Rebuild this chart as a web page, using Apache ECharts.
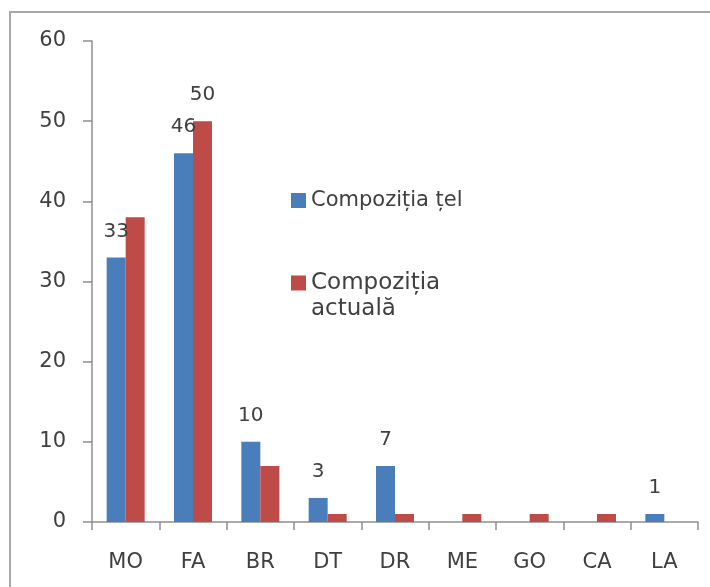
<!DOCTYPE html>
<html>
<head>
<meta charset="utf-8">
<script src="https://cdn.jsdelivr.net/npm/echarts@6/dist/echarts.min.js"></script>
<style>
  html, body { margin: 0; padding: 0; background: #ffffff; overflow: hidden; }
  #chart { width: 710px; height: 587px; position: relative; }
  /* frame along the top and left edges */
  #frame {
    position: absolute; left: 9px; top: 11px; width: 800px; height: 700px;
    border-top: 2px solid #a8a8a8; border-left: 2px solid #a8a8a8;
    pointer-events: none;
  }
</style>
</head>
<body>
<div id="chart"></div>
<div id="frame"></div>
<script>
// Team composition by role: target vs. current
const categories = ['MO', 'FA', 'BR', 'DT', 'DR', 'ME', 'GO', 'CA', 'LA'];
const targetValues = [33, 46, 10, 3, 7, 0, 0, 0, 1];
const currentValues = [38, 50, 7, 1, 1, 1, 1, 1, 0];
const currentLabelShown = [false, true, false, false, false, false, false, false, false];
const targetName = 'Compoziția țel';
const currentName = 'Compoziția actuală';

const FONT = 'DejaVu Sans';
const TEXT = '#404040';
const AXIS = '#8f8f8f';

const chart = echarts.init(document.getElementById('chart'));

const labelStyle = {
  position: 'top',
  distance: 16,
  fontFamily: FONT,
  fontSize: 20,
  color: TEXT
};

chart.setOption({
  backgroundColor: '#ffffff',
  animation: false,
  grid: { left: 92, right: 12, top: 41, bottom: 65 },
  legend: [{
    orient: 'vertical',
    left: 291,
    top: 190,
    padding: 0,
    itemWidth: 15,
    itemHeight: 15,
    icon: 'rect',
    data: [targetName],
    textStyle: { fontFamily: FONT, fontSize: 21, color: TEXT }
  }, {
    orient: 'vertical',
    left: 291,
    top: 244,
    padding: 0,
    itemWidth: 15,
    itemHeight: 15,
    icon: 'rect',
    data: [currentName],
    // leading blank line keeps the swatch level with the first text line
    formatter: name => '\n' + name.replace(' ', '\n'),
    textStyle: {
      fontFamily: FONT, fontSize: 23, lineHeight: 26, color: TEXT
    }
  }],
  xAxis: {
    type: 'category',
    data: categories,
    axisLine: { lineStyle: { color: AXIS, width: 1.5 } },
    axisTick: { show: true, length: 8, lineStyle: { color: AXIS, width: 1.5 } },
    axisLabel: { margin: 30, fontFamily: FONT, fontSize: 21, color: TEXT }
  },
  yAxis: {
    type: 'value',
    min: 0,
    max: 60,
    interval: 10,
    splitLine: { show: false },
    axisLine: { show: true, lineStyle: { color: AXIS, width: 1.5 } },
    axisTick: { show: true, length: 9, lineStyle: { color: AXIS, width: 1.5 } },
    axisLabel: { margin: 26, fontFamily: FONT, fontSize: 21, color: TEXT }
  },
  series: [{
    name: targetName,
    type: 'bar',
    barWidth: 19,
    barGap: '0%',
    itemStyle: { color: '#4a7ebb' },
    data: targetValues.map(v => ({
      value: v,
      label: Object.assign({ show: v > 0 }, labelStyle)
    }))
  }, {
    name: currentName,
    type: 'bar',
    barWidth: 19,
    barGap: '0%',
    itemStyle: { color: '#be4b48' },
    data: currentValues.map((v, i) => ({
      value: v,
      label: Object.assign({ show: currentLabelShown[i] }, labelStyle)
    }))
  }]
});
</script>
</body>
</html>
